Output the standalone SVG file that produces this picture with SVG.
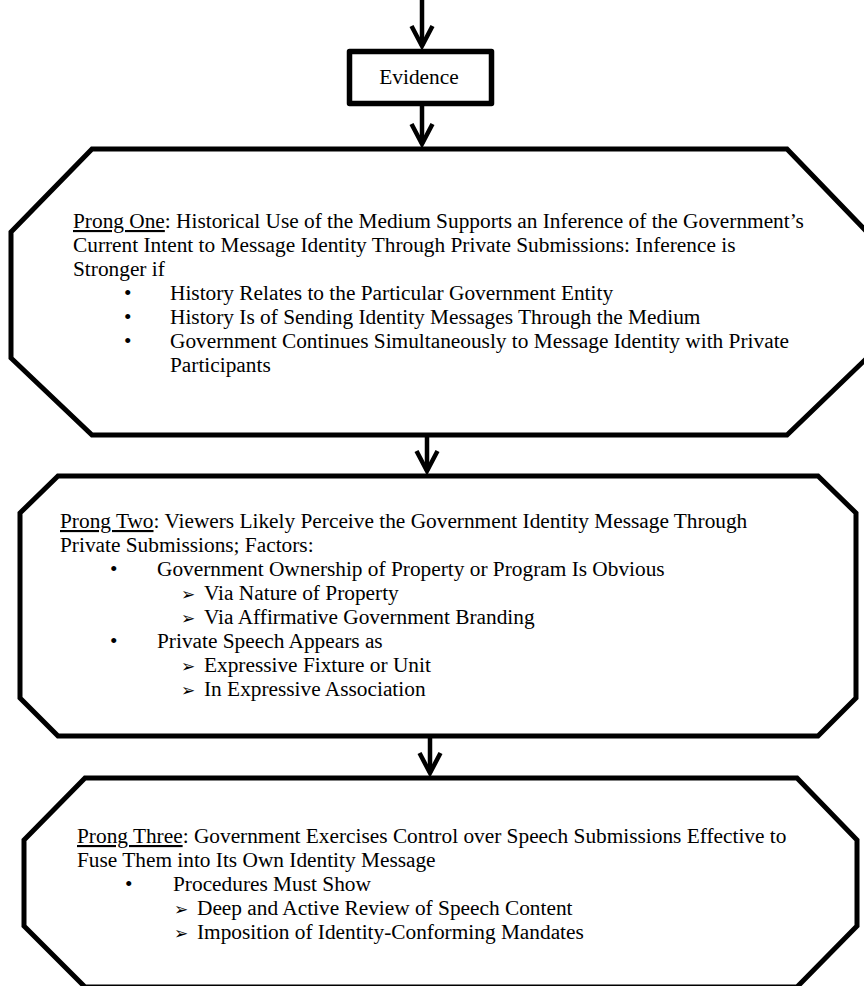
<svg xmlns="http://www.w3.org/2000/svg" width="864" height="986" viewBox="0 0 864 986">
<style>
  .shape { fill: #ffffff; stroke: #000000; stroke-width: 5; stroke-linejoin: miter; }
  .box { fill: #ffffff; stroke: #000000; stroke-width: 5.5; stroke-linejoin: round; }
  .conn { fill: none; stroke: #000000; stroke-width: 4.5; }
  .t { font-family: "Liberation Serif", "Times New Roman", serif; font-size: 21.33px; fill: #000000; }
  .ar { font-family: "DejaVu Sans", sans-serif; font-size: 17px; fill: #000000; }
  .u { text-decoration: underline; }
</style>
<defs>
  <marker id="head" markerUnits="userSpaceOnUse" markerWidth="30" markerHeight="30" refX="0" refY="0" orient="auto" viewBox="-25 -15 30 30" overflow="visible">
    <path d="M -20 -10.5 L 0 0 L -20 10.5" fill="none" stroke="#000000" stroke-width="4.5" stroke-linejoin="miter"/>
  </marker>
</defs>
<rect width="864" height="986" fill="#ffffff"/>

<g id="connectors">
  <line class="conn" x1="422" y1="0" x2="422" y2="46" marker-end="url(#head)"/>
  <line class="conn" x1="422" y1="106" x2="422" y2="144" marker-end="url(#head)"/>
  <line class="conn" x1="427" y1="437" x2="427" y2="471" marker-end="url(#head)"/>
  <line class="conn" x1="430" y1="738" x2="430" y2="773" marker-end="url(#head)"/>
</g>

<g id="evidence">
  <rect class="box" x="349.5" y="51.5" width="142" height="52"/>
  <text class="t" x="419" y="84" text-anchor="middle">Evidence</text>
</g>

<g id="prong-one">
  <polygon class="shape" points="92,149 787,149 867,232 867,358 787,435 92,435 11,358 11,232"/>
  <text class="t" x="73" y="228"><tspan class="u">Prong One</tspan>: Historical Use of the Medium Supports an Inference of the Government’s</text>
  <text class="t" x="73" y="252">Current Intent to Message Identity Through Private Submissions: Inference is</text>
  <text class="t" x="73" y="276">Stronger if</text>
  <text class="t" x="124" y="300">•</text>
  <text class="t" x="170" y="300">History Relates to the Particular Government Entity</text>
  <text class="t" x="124" y="324">•</text>
  <text class="t" x="170" y="324">History Is of Sending Identity Messages Through the Medium</text>
  <text class="t" x="124" y="348">•</text>
  <text class="t" x="170" y="348">Government Continues Simultaneously to Message Identity with Private</text>
  <text class="t" x="170" y="372">Participants</text>
</g>

<g id="prong-two">
  <polygon class="shape" points="58,476 818,476 856,513 856,698 818,736 58,736 20,698 20,513"/>
  <text class="t" x="60" y="528"><tspan class="u">Prong Two</tspan>: Viewers Likely Perceive the Government Identity Message Through</text>
  <text class="t" x="60" y="552">Private Submissions; Factors:</text>
  <text class="t" x="110" y="576">•</text>
  <text class="t" x="157" y="576">Government Ownership of Property or Program Is Obvious</text>
  <text class="ar" x="181" y="600">➢</text>
  <text class="t" x="204" y="600">Via Nature of Property</text>
  <text class="ar" x="181" y="624">➢</text>
  <text class="t" x="204" y="624">Via Affirmative Government Branding</text>
  <text class="t" x="110" y="648">•</text>
  <text class="t" x="157" y="648">Private Speech Appears as</text>
  <text class="ar" x="181" y="672">➢</text>
  <text class="t" x="204" y="672">Expressive Fixture or Unit</text>
  <text class="ar" x="181" y="696">➢</text>
  <text class="t" x="204" y="696">In Expressive Association</text>
</g>

<g id="prong-three">
  <polygon class="shape" points="85,778 797,778 857,840 857,926 797,987 85,987 24,926 24,840"/>
  <text class="t" x="77" y="843"><tspan class="u">Prong Three</tspan>: Government Exercises Control over Speech Submissions Effective to</text>
  <text class="t" x="77" y="867">Fuse Them into Its Own Identity Message</text>
  <text class="t" x="125" y="891">•</text>
  <text class="t" x="173" y="891">Procedures Must Show</text>
  <text class="ar" x="174" y="915">➢</text>
  <text class="t" x="197" y="915">Deep and Active Review of Speech Content</text>
  <text class="ar" x="174" y="939">➢</text>
  <text class="t" x="197" y="939">Imposition of Identity-Conforming Mandates</text>
</g>
</svg>
